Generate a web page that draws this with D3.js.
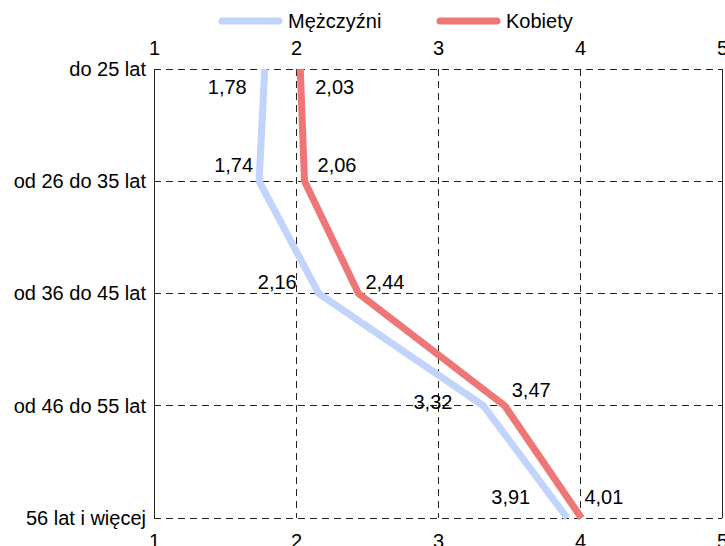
<!DOCTYPE html>
<html><head><meta charset="utf-8">
<script src="https://cdn.jsdelivr.net/npm/d3@7"></script>
<style>body{margin:0;background:#fff;} text{font-family:"Liberation Sans",Arial,sans-serif;}</style>
</head><body>
<svg id="c" width="725" height="546"></svg>
<script>
const categories = ["do 25 lat","od 26 do 35 lat","od 36 do 45 lat","od 46 do 55 lat","56 lat i więcej"];
const menValues = [1.78,1.74,2.16,3.32,3.91];
const womenValues = [2.03,2.06,2.44,3.47,4.01];
const xTicks = [1,2,3,4,5];
const seriesNames = ["Mężczyźni","Kobiety"];
const seriesColors = ["#c2d4fb","#ee7677"];
// label placement offsets (layout only)
const menLabelOffsets = [[-18,18],[-6,-16],[-22,-12],[-31,-4],[-37,-21]];
const womenLabelOffsets = [[15,18],[13,-16],[7,-12],[7,-16],[3,-21]];

const FS = 20;
const svg = d3.select("#c");
const L=154,R=722,T=69,B=518;
const x = d3.scaleLinear().domain([1,5]).range([L,R]);
const y = d3.scalePoint().domain(categories).range([T,B]);
const fmt = v => d3.format(".2f")(v).replace(".",",");

// grid
const g = svg.append("g").attr("shape-rendering","crispEdges");
g.selectAll("line.v").data(xTicks.slice(1,-1)).join("line")
  .attr("x1",d=>x(d)).attr("x2",d=>x(d)).attr("y1",T).attr("y2",B)
  .attr("stroke","#222").attr("stroke-width",1).attr("stroke-dasharray","7,5");
g.selectAll("line.h").data(categories).join("line")
  .attr("x1",L).attr("x2",R).attr("y1",d=>y(d)).attr("y2",d=>y(d))
  .attr("stroke","#222").attr("stroke-width",1).attr("stroke-dasharray","7,5");
[L,R].forEach(xx=>g.append("line").attr("x1",xx).attr("x2",xx).attr("y1",T).attr("y2",B).attr("stroke","#222").attr("stroke-width",1));

// axes
const topAxis = d3.axisTop(x).tickValues(xTicks).tickSize(0).tickPadding(14).tickFormat(d3.format("d"));
const botAxis = d3.axisBottom(x).tickValues(xTicks).tickSize(0).tickPadding(16).tickFormat(d3.format("d"));
const leftAxis = d3.axisLeft(y).tickSize(0).tickPadding(8);
[[topAxis,`translate(0,${T})`],[botAxis,`translate(0,${B})`],[leftAxis,`translate(${L},0)`]].forEach(([a,t])=>{
  const ag = svg.append("g").attr("transform",t).call(a);
  ag.select(".domain").remove();
  ag.selectAll("text").attr("font-size",FS).attr("fill","#000").style("font-family","'Liberation Sans',Arial,sans-serif");
});

// lines
const series = [menValues,womenValues];
const line = d3.line().x(d=>x(d.v)).y(d=>y(d.c));
series.forEach((vals,i)=>{
  svg.append("path").datum(vals.map((v,j)=>({v,c:categories[j]})))
    .attr("d",line).attr("fill","none").attr("stroke",seriesColors[i])
    .attr("stroke-width",7).attr("stroke-linejoin","round");
});
// labels
[[menValues,menLabelOffsets,"end"],[womenValues,womenLabelOffsets,"start"]].forEach(([vals,offs,anchor])=>{
  svg.append("g").selectAll("text").data(vals).join("text")
    .attr("x",(d,j)=>x(d)+offs[j][0]).attr("y",(d,j)=>y(categories[j])+offs[j][1])
    .attr("dy","0.35em").attr("text-anchor",anchor).attr("font-size",FS).attr("fill","#000")
    .text(d=>fmt(d));
});

// legend
const legX = [222,440];
seriesNames.forEach((n,i)=>{
  svg.append("line").attr("x1",legX[i]).attr("x2",legX[i]+57).attr("y1",21).attr("y2",21)
    .attr("stroke",seriesColors[i]).attr("stroke-width",7).attr("stroke-linecap","round");
  svg.append("text").attr("x",legX[i]+66).attr("y",21).attr("dy","0.35em").attr("font-size",FS).text(n);
});
</script>
</body></html>
